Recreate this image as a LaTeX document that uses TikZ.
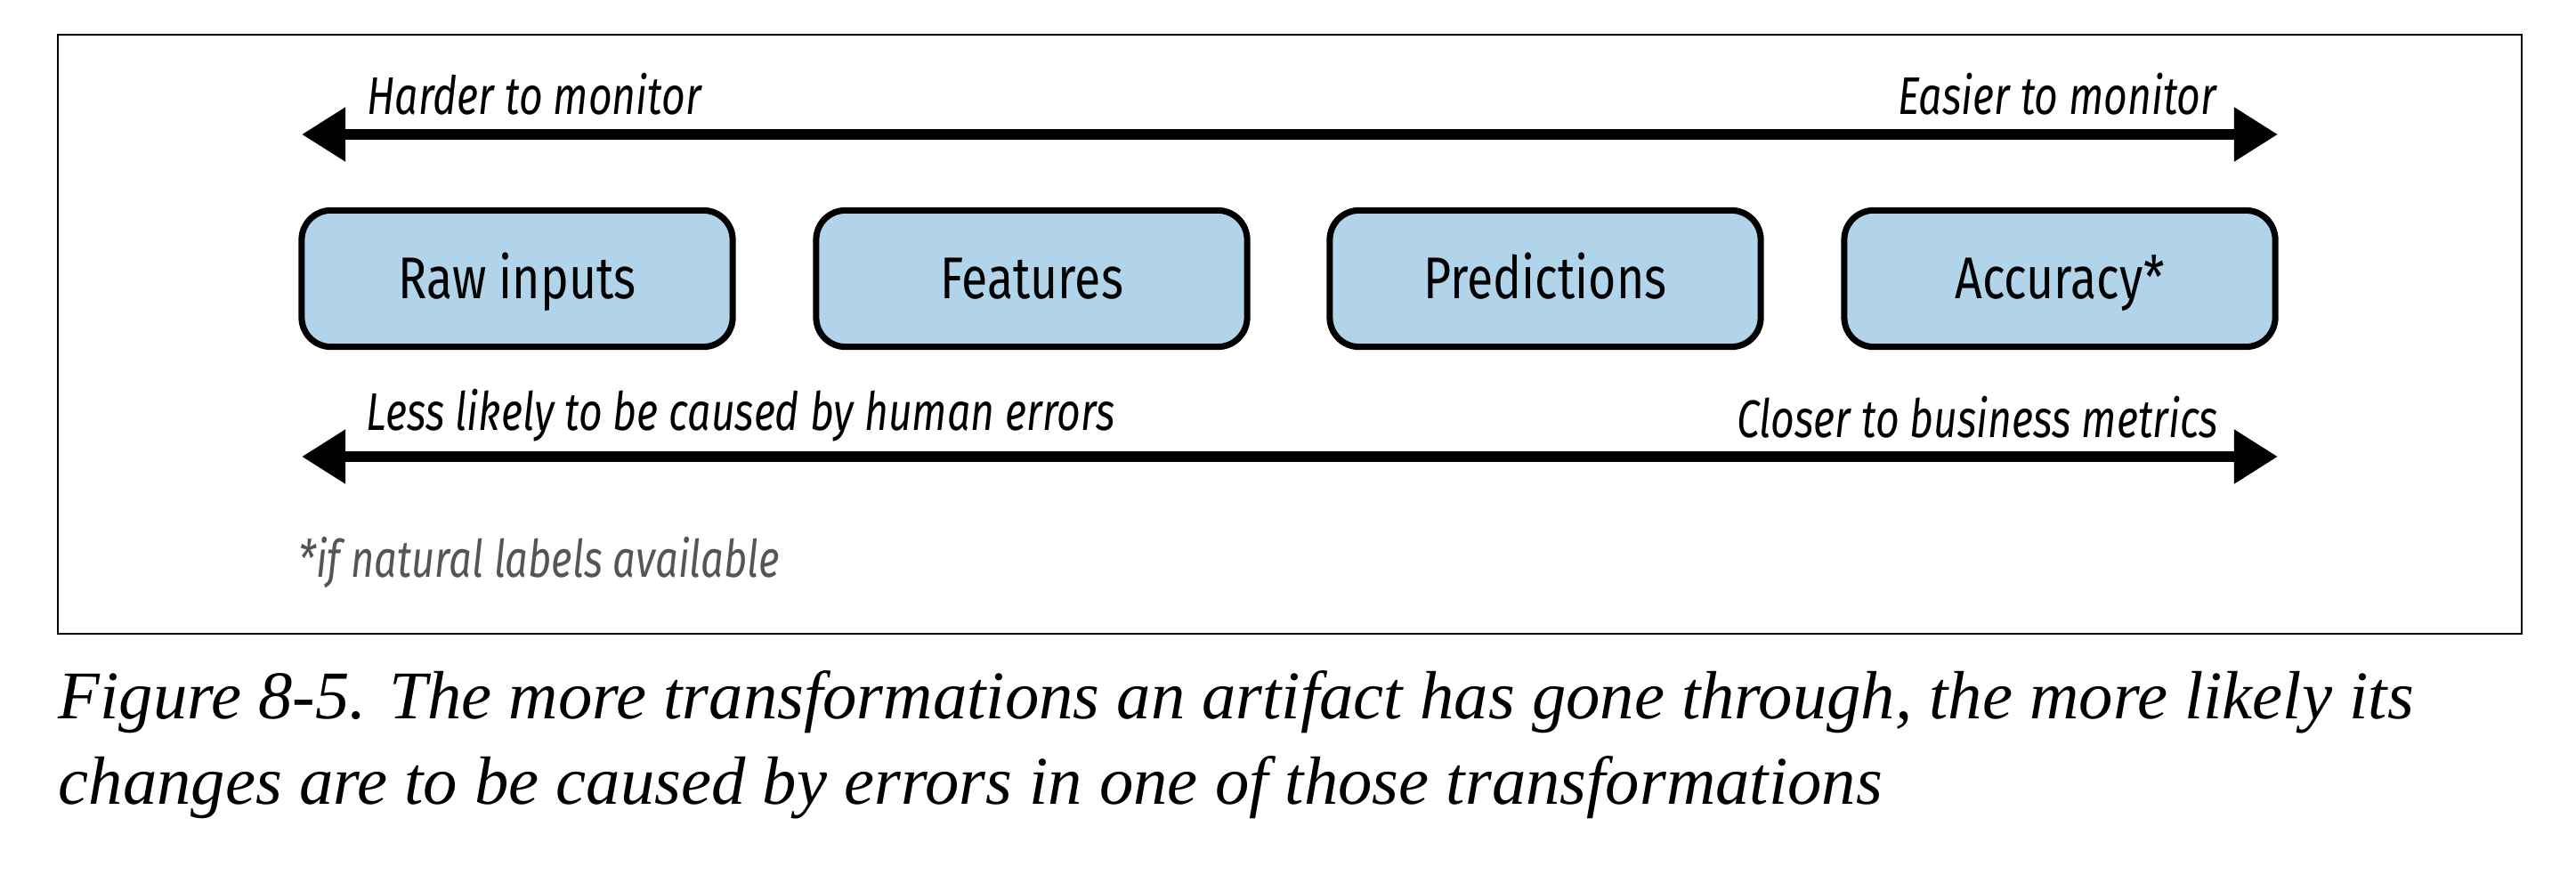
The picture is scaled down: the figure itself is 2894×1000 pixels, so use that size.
\documentclass[tikz,border=0pt]{standalone}
\usepackage{fontspec}
\usetikzlibrary{arrows.meta}
\newfontfamily\figsans{Fira Sans}[FakeStretch=0.78]
\newfontfamily\boxsans{Fira Sans}[FakeStretch=0.81]
\newfontfamily\capserif{Liberation Serif}
\definecolor{boxblue}{HTML}{B1D4EA}
\definecolor{notegray}{HTML}{555555}
\tikzset{
  stagebox/.style={draw=black, line width=2pt, fill=boxblue, rounded corners=9.4pt,
    minimum width=137.7pt, minimum height=43.6pt, inner sep=0pt,
    text height=12.8pt, text depth=0pt,
    font=\boxsans\fontsize{18.8}{20}\selectfont},
  scale arrow/.style={line width=3.4pt, {Triangle[length=14pt,width=16.5pt]}-{Triangle[length=14pt,width=16.5pt]}},
  axislabel/.style={inner sep=0pt, font=\figsans\itshape\fontsize{16.9}{18}\selectfont},
  notelabel/.style={inner sep=0pt, text=notegray, font=\figsans\itshape\fontsize{16.5}{18}\selectfont},
  captionline/.style={inner sep=0pt, anchor=base west, font=\capserif\itshape\fontsize{21.8}{24}\selectfont}
}
\begin{document}
\begin{tikzpicture}[x=0.01cm,y=-0.01cm]
\useasboundingbox (0,0) rectangle (2894,1000);
\draw[line width=0.6pt] (65,39) rectangle (2833,712);
% top arrow
\coordinate (tl) at (339,151);
\coordinate (tr) at (2559,151);
\draw[scale arrow] (tl) -- (tr);
\node[axislabel, anchor=base west] (harder) at (412,128) {Harder to monitor};
\node[axislabel, anchor=base east] (easier) at (2491,128) {Easier to monitor};
% boxes
\node[stagebox] (raw) at (581,313) {Raw inputs};
\node[stagebox] (feat) at (1159,313) {Features};
\node[stagebox] (pred) at (1736,313) {Predictions};
\node[stagebox] (acc) at (2314,313) {Accuracy*};
% bottom arrow
\coordinate (bl) at (339,513);
\coordinate (br) at (2559,513);
\draw[scale arrow] (bl) -- (br);
\node[axislabel, anchor=base west] (less) at (411,483) {Less likely to be caused by human errors};
\node[axislabel, anchor=base east] (closer) at (2493,491) {Closer to business metrics};
\node[notelabel, anchor=base west] (note) at (335,648) {*if natural labels available};
% caption
\node[captionline] (cap1) at (65,807) {Figure 8-5. The more transformations an artifact has gone through, the more likely its};
\node[captionline] (cap2) at (65,903) {changes are to be caused by errors in one of those transformations};
\end{tikzpicture}
\end{document}
